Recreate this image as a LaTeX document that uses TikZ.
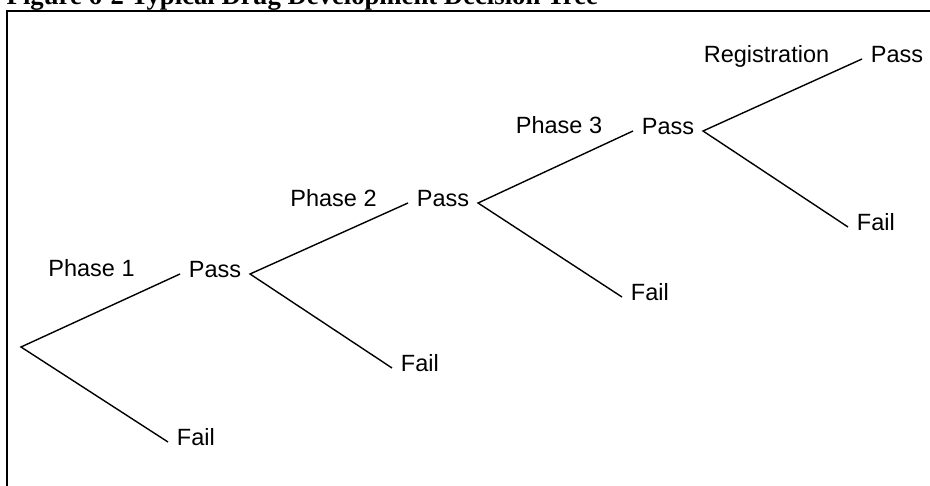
\documentclass[tikz,border=0pt]{standalone}
\usepackage{fontspec}
\newfontfamily\labelfont{Liberation Sans}
\newfontfamily\captionfont{Liberation Serif}
\begin{document}
\begin{tikzpicture}[x=1pt,y=-1pt,
  branch/.style={line width=1.4pt},
  outcome/.style={font=\labelfont\fontsize{23.5}{28}\selectfont, anchor=west,
    inner xsep=8.7pt, inner ysep=0pt, text height=0.72em, text depth=0pt},
  stagelabel/.style={font=\labelfont\fontsize{23.5}{28}\selectfont,
    inner sep=0pt, text height=0.72em, text depth=0pt}]
\useasboundingbox (0,0) rectangle (930,486);
% frame and caption
\draw[line width=1.8pt] (6.9,11.2) rectangle (960,520);
\node[font=\captionfont\bfseries\fontsize{26.7}{30}\selectfont, anchor=base west, inner sep=0pt]
  (caption) at (6.5,4.5) {Figure 6-2 Typical Drug Development Decision Tree};
% tree
\coordinate (root) at (21,347);
\node[outcome] (pass1) at (180,274) {Pass};
\node[outcome] (fail1) at (168,442) {Fail};
\node[outcome] (pass2) at (408,203) {Pass};
\node[outcome] (fail2) at (392,368) {Fail};
\node[outcome] (pass3) at (633,131) {Pass};
\node[outcome] (fail3) at (622,297) {Fail};
\node[outcome] (pass4) at (862,59) {Pass};
\node[outcome] (fail4) at (848,227) {Fail};
\node[stagelabel] (ph1) at (91.5,273) {Phase 1};
\node[stagelabel] (ph2) at (333.5,203) {Phase 2};
\node[stagelabel] (ph3) at (559,130) {Phase 3};
\node[stagelabel] (reg) at (766.5,59) {Registration};
\draw[branch] (pass1.west) -- (root) -- (fail1.west);
\draw[branch] (pass2.west) -- (pass1.east) -- (fail2.west);
\draw[branch] (pass3.west) -- (pass2.east) -- (fail3.west);
\draw[branch] (pass4.west) -- (pass3.east) -- (fail4.west);
\end{tikzpicture}
\end{document}
